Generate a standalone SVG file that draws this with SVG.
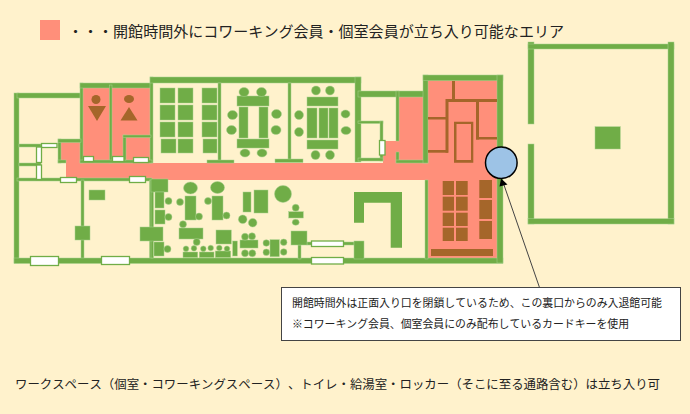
<svg xmlns="http://www.w3.org/2000/svg" width="690" height="414" viewBox="0 0 690 414">
<style>
.g{fill:#70ad47}
.g rect,.g circle,.g ellipse{stroke:#a9d18e;stroke-width:.5}
.b{fill:#a5662a}
.p{fill:#ff8f7a}
.w{fill:#fff;stroke:#70ad47;stroke-width:1.3}
text{font-family:"Noto Sans CJK JP","Liberation Sans",sans-serif;fill:#222;text-spacing-trim:space-all;font-kerning:none}
</style>
<rect width="690" height="414" fill="#fff2cc"/>
<g id="legend">
<rect class="p" x="40" y="20" width="20" height="20"/>
<text x="68" y="37" font-size="14.6" textLength="496" lengthAdjust="spacingAndGlyphs">・・・開館時間外にコワーキング会員・個室会員が立ち入り可能なエリア</text>
</g>
<g id="pink-area">
<rect class="p" x="83" y="87" width="27" height="76"/>
<rect class="p" x="112" y="87" width="38" height="76"/>
<rect class="p" x="61" y="142" width="22" height="20"/>
<rect class="p" x="66" y="160" width="20" height="6"/>
<rect class="p" x="66" y="163" width="365" height="17"/>
<rect class="p" x="399" y="97" width="29" height="68"/>
<rect class="p" x="383" y="141" width="18" height="24"/>
<rect class="p" x="427" y="80" width="71" height="179"/>
</g>
<g id="walls" class="g">
<rect x="14" y="93" width="5" height="170"/><rect x="17" y="93" width="64" height="5"/>
<rect x="80" y="83" width="3" height="80"/><rect x="80" y="83" width="72" height="5"/>
<rect x="109.500" y="85" width="2.500" height="78"/><rect x="150" y="77" width="3" height="86"/>
<rect x="80" y="160" width="72" height="3"/><rect x="123" y="135" width="3" height="25"/><rect x="123" y="135" width="28" height="2.500"/>
<rect x="58" y="139" width="3" height="24"/><rect x="58" y="139" width="23" height="3.500"/><rect x="58" y="160" width="8" height="3"/>
<rect x="17" y="178" width="135" height="3"/><rect x="19" y="144" width="22" height="3"/><rect x="19" y="163" width="22" height="3"/>
<rect x="81" y="180" width="3" height="79"/><rect x="149.500" y="180" width="3" height="79"/>
<rect x="14" y="258" width="489" height="5.500"/>
<rect x="150" y="77" width="211" height="6"/><rect x="355" y="77" width="6" height="85"/>
<rect x="218" y="83" width="3" height="78"/><rect x="288" y="83" width="3" height="77"/>
<rect x="207" y="160" width="27" height="3"/><rect x="275" y="159" width="28" height="3.500"/>
<rect x="358" y="91" width="68" height="6"/><rect x="396" y="91" width="3" height="50"/><rect x="396" y="152" width="3" height="11"/>
<rect x="396" y="160" width="32" height="3"/><rect x="358" y="121" width="25" height="2.500"/><rect x="380" y="121" width="3" height="40"/><rect x="358" y="158" width="25" height="3"/>
<rect x="423" y="75" width="5" height="88"/><rect x="423" y="75" width="80" height="5.700"/><rect x="497" y="75" width="6" height="188"/>
<rect x="425" y="180" width="3" height="79"/>
<rect x="298" y="245" width="3" height="14"/><rect x="307" y="242" width="47" height="3"/>
<rect x="151" y="180" width="2.500" height="78"/>
</g>
<g id="windows">
<rect class="w" x="41.500" y="143.500" width="15.500" height="4"/><rect class="w" x="36.500" y="147" width="5" height="15.500"/><rect class="w" x="36.500" y="165" width="5" height="14.500"/>
<rect class="w" x="60.500" y="177.500" width="16" height="5"/><rect class="w" x="129.500" y="176.500" width="16" height="6"/>
<rect class="w" x="30.500" y="256.500" width="28" height="9"/><rect class="w" x="101.500" y="256.500" width="28" height="8"/>
<rect class="w" x="83.500" y="156.500" width="10" height="5"/><rect class="w" x="112.500" y="156.500" width="11.500" height="5"/><rect class="w" x="133.500" y="157.500" width="15" height="5"/>
<rect class="w" x="379.500" y="140.500" width="5.500" height="14.500"/>
<rect class="w" x="311.500" y="241" width="32" height="5.500"/><rect class="w" x="311.500" y="257.500" width="32" height="6.500"/>
</g>
<g id="toilets" class="b">
<circle cx="96" cy="99.500" r="4.500"/><path d="M88 106h18l-9 15z"/>
<ellipse cx="129" cy="99" rx="5" ry="4"/><path d="M129 107l8.500 13.500h-17z"/>
</g>
<g id="furniture-west" class="g">
<rect x="89" y="190" width="16" height="10"/><rect x="75" y="226" width="15" height="14"/>
</g>
<g id="room-1" class="g">
<rect x="160" y="88" width="15" height="15"/><rect x="178" y="88" width="15" height="15"/><rect x="202" y="88" width="15" height="15"/>
<rect x="160" y="105" width="15" height="15"/><rect x="178" y="105" width="15" height="15"/><rect x="202" y="105" width="15" height="15"/>
<rect x="160" y="122" width="15" height="15"/><rect x="178" y="122" width="15" height="15"/><rect x="202" y="122" width="15" height="15"/>
<rect x="161" y="139" width="15" height="14"/><rect x="178" y="139" width="15" height="14"/><rect x="203" y="139" width="14" height="14"/>
</g>
<g id="room-2" class="g">
<rect x="237" y="96" width="32" height="10"/><rect x="239" y="107" width="9" height="31"/><rect x="259" y="107" width="9" height="31"/><rect x="237" y="139" width="32" height="9"/>
<ellipse cx="244" cy="92" rx="5" ry="4.500"/><ellipse cx="261.500" cy="92" rx="5" ry="4.500"/><ellipse cx="232.500" cy="115" rx="5" ry="4.500"/><ellipse cx="231.500" cy="130" rx="5" ry="4.500"/><ellipse cx="276.500" cy="114" rx="5" ry="4.500"/><ellipse cx="276" cy="130" rx="5" ry="4.500"/><ellipse cx="245" cy="153" rx="5" ry="4"/><ellipse cx="262" cy="153" rx="5" ry="4"/>
</g>
<g id="room-3" class="g">
<rect x="307" y="97" width="31" height="9"/><rect x="307" y="108" width="10" height="30"/><rect x="319" y="108" width="9" height="30"/><rect x="329" y="108" width="9" height="30"/><rect x="307" y="140" width="31" height="9"/>
<circle cx="316" cy="90.500" r="4.500"/><circle cx="330" cy="90.500" r="4.500"/><circle cx="299" cy="115" r="4.500"/><circle cx="299" cy="132" r="4.500"/><ellipse cx="345.500" cy="114" rx="4.500" ry="4"/><ellipse cx="346" cy="130.500" rx="5" ry="4"/><circle cx="315.500" cy="155" r="4.500"/><circle cx="330" cy="155" r="4.500"/>
</g>
<g id="lounge" class="g">
<rect x="151" y="179" width="17" height="13"/><rect x="155" y="192" width="9" height="16"/><circle cx="168.500" cy="201" r="3.500"/>
<rect x="155" y="210" width="10" height="14"/><circle cx="168.500" cy="217" r="3.500"/>
<rect x="140" y="227" width="23" height="14"/><rect x="154" y="242" width="10" height="14"/><circle cx="167.500" cy="249" r="3.500"/>
<ellipse cx="190.500" cy="188" rx="7" ry="6"/><rect x="185" y="196" width="11" height="24"/><circle cx="180" cy="202" r="3.500"/><circle cx="199" cy="216.500" r="3.500"/>
<ellipse cx="217.500" cy="187.500" rx="7" ry="6"/><rect x="212" y="196" width="11" height="24"/><circle cx="208" cy="201" r="3.500"/><circle cx="226.500" cy="215.500" r="3.500"/>
<rect x="243" y="192" width="8" height="20"/><rect x="254" y="190" width="14" height="23"/><circle cx="283" cy="194" r="8.500"/>
<circle cx="242.700" cy="219.300" r="4.300"/><circle cx="252.700" cy="222.700" r="4.300"/>
<circle cx="295.700" cy="207.700" r="3.500"/><rect x="288.700" y="211.700" width="14.600" height="6.300"/><ellipse cx="295.700" cy="222.300" rx="3.500" ry="3"/>
<rect x="291" y="231" width="16" height="14"/>
<rect x="179" y="228" width="24" height="11"/><circle cx="183" cy="224.300" r="3.500"/><circle cx="196.700" cy="242" r="3.500"/>
<rect x="216" y="230" width="15.300" height="14"/><rect x="232.700" y="241" width="4.600" height="15"/>
<rect x="240" y="240" width="18" height="8"/><circle cx="245" cy="236.700" r="3.500"/><circle cx="252" cy="236.300" r="3.500"/><circle cx="245" cy="253.300" r="3.500"/><circle cx="252.300" cy="253.300" r="3.500"/>
<rect x="270" y="239.700" width="9.300" height="17"/><circle cx="266.300" cy="243" r="3.300"/><circle cx="266.300" cy="252.300" r="3.300"/><circle cx="283.700" cy="242.300" r="3.300"/><circle cx="283.700" cy="252" r="3.300"/>
<rect x="183" y="252" width="14.700" height="5.500"/><circle cx="186" cy="248.700" r="2.800"/><circle cx="194" cy="248.300" r="2.800"/>
<rect x="199.300" y="252" width="14.700" height="5.500"/><circle cx="203.300" cy="248.700" r="2.800"/><circle cx="210.700" cy="248" r="2.800"/>
<rect x="215.300" y="251" width="15.400" height="6.500"/><circle cx="219.300" cy="248" r="2.800"/><circle cx="227" cy="248.700" r="2.800"/>
</g>
<g id="reception" class="g">
<path d="M354 192h48v55.700h-11.300v-45h-26.700v20h-10z"/><rect x="354" y="241" width="10" height="18"/>
</g>
<g id="lockers" class="b">
<rect x="452" y="81" width="3" height="20"/><rect x="446" y="99" width="51" height="3"/><rect x="445.500" y="99" width="3" height="53.700"/>
<rect x="428" y="117" width="18" height="2.500"/><rect x="428" y="150" width="20" height="2.700"/>
<rect x="476" y="100" width="3" height="39.500"/><rect x="476" y="137" width="21" height="2.500"/>
<path d="M454 121.700h19.300v41h-19.300zM456.500 124v36h14.500v-36z" fill-rule="evenodd"/>
<rect x="442.700" y="181" width="11.300" height="14"/><rect x="456" y="181" width="11.700" height="14"/>
<rect x="442.700" y="196.700" width="11.300" height="14"/><rect x="456" y="196.700" width="11.700" height="14"/>
<rect x="442.700" y="212.700" width="11.300" height="13.300"/><rect x="456" y="212.700" width="11.700" height="13.300"/>
<rect x="442.700" y="227.700" width="11.300" height="13.300"/><rect x="456" y="227.700" width="11.700" height="13.300"/>
<rect x="479.300" y="180" width="12.700" height="18"/><rect x="479.300" y="200" width="12.700" height="19"/><rect x="479.300" y="221" width="12.700" height="18"/>
<rect x="431" y="249" width="62" height="7"/>
</g>
<g id="annex" class="g">
<rect x="528" y="42" width="6" height="82"/><rect x="528" y="144" width="6" height="80"/><rect x="528" y="44" width="146" height="5"/><rect x="668" y="42" width="6" height="182"/><rect x="528" y="218.700" width="146" height="5.300"/><rect x="595" y="126.700" width="25.300" height="22.300"/>
</g>
<g id="back-door">
<circle cx="501.300" cy="162.700" r="15.800" fill="#9dc3e6" stroke="#000" stroke-width="1.500"/>
</g>
<g id="connectors">
<path d="M539.500 287.500L504 185" fill="none" stroke="#444" stroke-width="1"/>
<path d="M501 178.500L507.500 184.500L499.500 186.500z" fill="#000"/>
</g>
<g id="note">
<rect x="281.500" y="287.500" width="399" height="53" fill="#fff" stroke="#444" stroke-width="1"/>
<text x="292" y="307" font-size="10.800" textLength="370" lengthAdjust="spacingAndGlyphs">開館時間外は正面入り口を閉鎖しているため、この裏口からのみ入退館可能</text>
<text x="292" y="328" font-size="10.800" textLength="337" lengthAdjust="spacingAndGlyphs">※コワーキング会員、個室会員にのみ配布しているカードキーを使用</text>
</g>
<g id="footer">
<text x="15" y="389" font-size="12.300" textLength="645" lengthAdjust="spacingAndGlyphs">ワークスペース（個室・コワーキングスペース）、トイレ・給湯室・ロッカー（そこに至る通路含む）は立ち入り可</text>
</g>
</svg>
